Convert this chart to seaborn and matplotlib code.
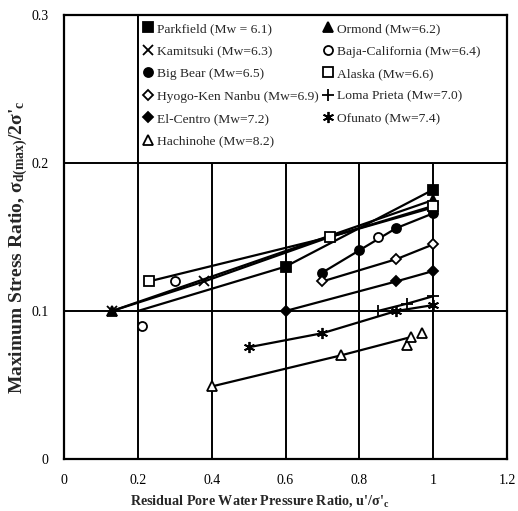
import matplotlib
matplotlib.use("Agg")
import matplotlib.pyplot as plt
from matplotlib.lines import Line2D
from matplotlib.patches import Rectangle
import seaborn as sns
import pandas as pd

# ---- data: residual pore pressure ratio (x) vs. maximum stress ratio (y) ----
names = ["Parkfield (Mw = 6.1)", "Ormond (Mw=6.2)", "Kamitsuki (Mw=6.3)",
         "Baja-California (Mw=6.4)", "Big Bear (Mw=6.5)", "Alaska (Mw=6.6)",
         "Hyogo-Ken Nanbu (Mw=6.9)", "Loma Prieta (Mw=7.0)", "El-Centro (Mw=7.2)",
         "Ofunato (Mw=7.4)", "Hachinohe (Mw=8.2)"]

parkfield_x = [0.60, 1.00]
parkfield_y = [0.130, 0.182]
parkfield_lx = [0.20, 0.60, 1.00]
parkfield_ly = [0.100, 0.130, 0.182]

ormond_x = [0.13, 1.00]
ormond_y = [0.100, 0.175]

kamitsuki_x = [0.13, 0.38, 0.72, 1.00]
kamitsuki_y = [0.100, 0.120, 0.150, 0.170]

baja_x = [0.21, 0.30, 0.85]
baja_y = [0.090, 0.120, 0.150]

bigbear_x = [0.70, 0.80, 0.90, 1.00]
bigbear_y = [0.126, 0.141, 0.156, 0.166]

alaska_x = [0.23, 0.72, 1.00]
alaska_y = [0.120, 0.150, 0.171]

hyogo_x = [0.70, 0.90, 1.00]
hyogo_y = [0.120, 0.135, 0.145]

loma_x = [0.85, 0.93, 1.00]
loma_y = [0.100, 0.105, 0.110]

elcentro_x = [0.60, 0.90, 1.00]
elcentro_y = [0.100, 0.120, 0.127]

ofunato_x = [0.50, 0.70, 0.90, 1.00]
ofunato_y = [0.0755, 0.085, 0.100, 0.104]

hachinohe_x = [0.40, 0.75, 0.93, 0.94, 0.97]
hachinohe_y = [0.049, 0.070, 0.077, 0.0824, 0.085]
hachinohe_lx = [0.40, 0.75, 0.94]
hachinohe_ly = [0.049, 0.070, 0.0824]

x_ticks = [0, 0.2, 0.4, 0.6, 0.8, 1.0, 1.2]
x_ticklabels = ["0", "0.2", "0.4", "0.6", "0.8", "1", "1.2"]
y_ticks = [0, 0.1, 0.2, 0.3]
y_ticklabels = ["0", "0.1", "0.2", "0.3"]

# ---- styling ----
sns.set_theme(style="white")
plt.rcParams["font.family"] = ["Liberation Serif", "DejaVu Serif"]
plt.rcParams["mathtext.default"] = "regular"

asterisk = (6, 2, 0)
series = [
    # name, marker x, marker y, line x, line y, marker, filled
    (names[0], parkfield_x, parkfield_y, parkfield_lx, parkfield_ly, "s", True),
    (names[1], ormond_x, ormond_y, ormond_x, ormond_y, "^", True),
    (names[2], kamitsuki_x, kamitsuki_y, kamitsuki_x, kamitsuki_y, "x", True),
    (names[3], baja_x, baja_y, None, None, "o", False),
    (names[4], bigbear_x, bigbear_y, bigbear_x, bigbear_y, "o", True),
    (names[5], alaska_x, alaska_y, alaska_x, alaska_y, "s", False),
    (names[6], hyogo_x, hyogo_y, hyogo_x, hyogo_y, "D", False),
    (names[7], loma_x, loma_y, loma_x, loma_y, "+", True),
    (names[8], elcentro_x, elcentro_y, elcentro_x, elcentro_y, "D", True),
    (names[9], ofunato_x, ofunato_y, ofunato_x, ofunato_y, asterisk, True),
    (names[10], hachinohe_x, hachinohe_y, hachinohe_lx, hachinohe_ly, "^", False),
]
sizes = {"s": 6.5, "^": 7, "x": 7, "o": 6.5, "D": 5.5, "+": 8, asterisk: 8}

fig = plt.figure(figsize=(5.18, 5.11), dpi=100)
ax = fig.add_axes([0.1236, 0.1018, 0.8552, 0.8688])

# trend lines
for name, mx, my, lx, ly, mk, filled in series:
    if lx is None:
        continue
    sns.lineplot(x=lx, y=ly, ax=ax, color="black", lw=1.6, sort=False,
                 estimator=None, zorder=3, legend=False)

# markers
handles = []
for name, mx, my, lx, ly, mk, filled in series:
    df = pd.DataFrame({"x": mx, "y": my})
    ms = sizes[mk]
    fc = "black" if filled else "white"
    ax.plot(df["x"], df["y"], linestyle="none", marker=mk, ms=ms,
            mfc=fc, mec="black", mew=1.3, zorder=4)
    handles.append(Line2D([], [], linestyle="none", marker=mk, ms=ms,
                          mfc=fc, mec="black", mew=1.3, label=name))

ax.set_xlim(0, 1.2)
ax.set_ylim(0, 0.3)
ax.set_xticks(x_ticks)
ax.set_xticklabels(x_ticklabels)
ax.set_yticks(y_ticks)
ax.set_yticklabels(y_ticklabels)
ax.tick_params(length=0, labelsize=10, pad=11, colors="black")
ax.grid(True, color="black", lw=1.4, zorder=1)
ax.set_axisbelow(True)
for s in ax.spines.values():
    s.set_color("black")
    s.set_linewidth(1.6)

ax.set_xlabel("Residual Pore Water Pressure Ratio, u'/σ'$_c$",
              fontsize=10.2, fontweight="bold")
ax.xaxis.set_label_coords(0.443, -0.076)
ax.set_ylabel("Maximum Stress Ratio, σ$_{d(max)}$/2σ'$_c$",
              fontsize=14, fontweight="bold")
ax.yaxis.set_label_coords(-0.077, 0.477)

# white legend panel in the upper right, bounded by the grid lines
ax.add_patch(Rectangle((0.2, 0.2), 1.0, 0.1, facecolor="white",
                       edgecolor="black", lw=1.4, zorder=2.5))

order = [0, 2, 4, 6, 8, 10, 1, 3, 5, 7, 9]
leg = ax.legend([handles[i] for i in order], [names[i] for i in order],
                ncol=2, loc="upper left", bbox_to_anchor=(0.166, 0.995),
                frameon=False, fontsize=9.7, handlelength=0.8,
                handletextpad=0.25, columnspacing=0.3, labelspacing=0.75,
                borderaxespad=0.0)
leg.set_zorder(5)

fig.savefig("out.png", dpi=100)
